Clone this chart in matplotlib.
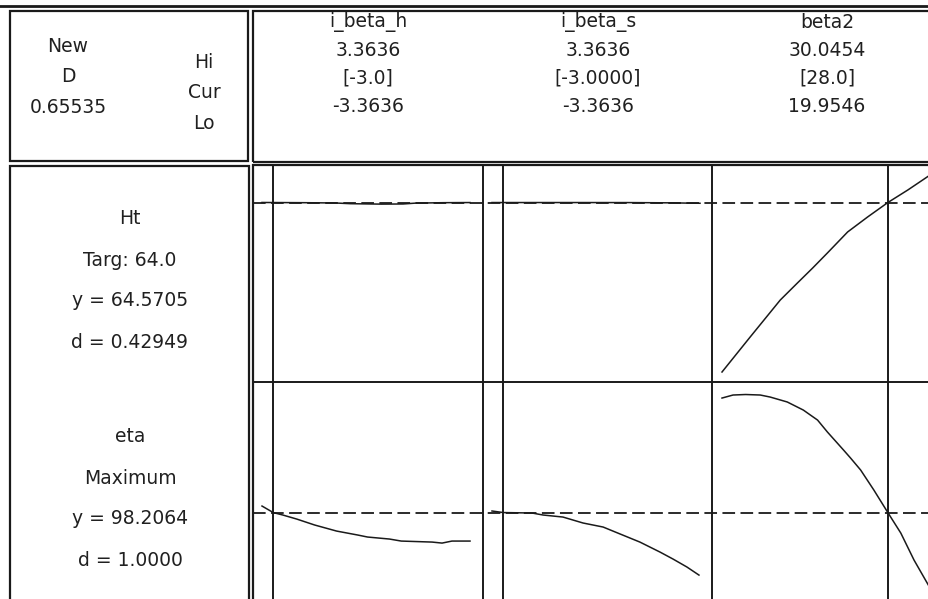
import numpy as np
import matplotlib
matplotlib.use('Agg')
import matplotlib.pyplot as plt
from matplotlib.lines import Line2D
from matplotlib.patches import Rectangle

W, H = 929, 599

# ---------------- data ----------------
factors = ['i_beta_h', 'i_beta_s', 'beta2']
f_lo = [-3.3636, -3.3636, 19.9546]
f_hi = [3.3636, 3.3636, 30.0454]
f_cur = [-3.0, -3.0, 28.0]
hi_txt = ['3.3636', '3.3636', '30.0454']
cur_txt = ['[-3.0]', '[-3.0000]', '[28.0]']
lo_txt = ['-3.3636', '-3.3636', '19.9546']

responses = ['Ht', 'eta']
goals = ['Targ: 64.0', 'Maximum']
y_pred = [64.5705, 98.2064]
d_txt = ['0.42949', '1.0000']
comp_d = '0.65535'

# Ht vs each factor
ht_x_h = [-3.3636, -3.0, -2.0, -1.0, -0.5, 0.5, 1.2, 1.6, 2.5, 3.3636]
ht_y_h = [64.575, 64.5705, 64.56, 64.54, 64.49, 64.46, 64.47, 64.53, 64.56, 64.57]
ht_x_s = [-3.3636, -3.0, -1.0, 1.0, 2.4, 3.0, 3.3636]
ht_y_s = [64.5705, 64.5705, 64.5705, 64.568, 64.55, 64.53, 64.52]
ht_x_b = [19.955, 21.32, 22.78, 23.61, 24.35, 25.07, 26.05, 27.02, 28.0, 28.97, 30.05]
ht_y_b = [52.70, 55.15, 57.74, 58.93, 59.98, 61.04, 62.51, 63.56, 64.5705, 65.45, 66.50]

# eta vs each factor
eta_x_h = [-3.3636, -3.0, -2.69, -2.24, -1.66, -0.95, -0.27, 0.05, 0.76, 1.14, 2.14, 2.46, 2.78, 3.3636]
eta_y_h = [98.271, 98.2064, 98.182, 98.142, 98.083, 98.023, 97.984, 97.964, 97.944, 97.924,
           97.914, 97.904, 97.924, 97.924]
eta_x_s = [-3.3636, -3.0, -2.07, -1.71, -1.07, -0.42, 0.23, 0.78, 1.42, 2.07, 2.49, 2.94, 3.33]
eta_y_s = [98.222, 98.2064, 98.202, 98.182, 98.162, 98.103, 98.063, 97.994, 97.914, 97.815,
           97.746, 97.667, 97.587]
eta_x_b = [19.955, 20.49, 21.10, 21.81, 22.29, 23.12, 23.51, 23.90, 24.24, 24.59, 25.07, 25.85,
           26.19, 26.68, 27.32, 28.0, 28.63, 29.27, 30.05]
eta_y_b = [99.341, 99.371, 99.376, 99.371, 99.351, 99.302, 99.262, 99.222, 99.173, 99.123,
           99.004, 98.826, 98.747, 98.628, 98.430, 98.2064, 98.003, 97.736, 97.458]

curves = [[(ht_x_h, ht_y_h), (ht_x_s, ht_y_s), (ht_x_b, ht_y_b)],
          [(eta_x_h, eta_y_h), (eta_x_s, eta_y_s), (eta_x_b, eta_y_b)]]
row_ylim = [(52.0, 67.2), (97.35, 99.5)]

# ---------------- layout (pixels) ----------------
row_top = [165, 382]
row_bot = [382, 599]
col_left = [253, 483, 712]
plot_w = 208

plt.rcParams['font.family'] = ['DejaVu Sans']
fig = plt.figure(figsize=(W / 100, H / 100), dpi=100)
fig.patch.set_facecolor('white')

LC = '#1a1a1a'
TC = '#202020'
FS = 13.5


def add_ax(x0, y0, x1, y1):
    return fig.add_axes([x0 / W, 1 - y1 / H, (x1 - x0) / W, (y1 - y0) / H])


def hline(y, x0, x1, lw=1.4, color=LC):
    fig.add_artist(Line2D([x0 / W, x1 / W], [1 - y / H, 1 - y / H], lw=lw, color=color,
                          transform=fig.transFigure))


def vline(x, y0, y1, lw=1.4, color=LC):
    fig.add_artist(Line2D([x / W, x / W], [1 - y0 / H, 1 - y1 / H], lw=lw, color=color,
                          transform=fig.transFigure))


def rect(x0, y0, x1, y1, lw=1.6):
    fig.add_artist(Rectangle((x0 / W, 1 - y1 / H), (x1 - x0) / W, (y1 - y0) / H,
                             fill=False, lw=lw, edgecolor=LC, transform=fig.transFigure))


def txt(x, y, s, ha='center'):
    fig.text(x / W, 1 - y / H, s, ha=ha, va='center', fontsize=FS, color=TC)


# frames
hline(5.5, 0, 929, lw=2)
rect(10, 11, 248, 161)
rect(253, 11, 940, 162)
rect(10, 166, 249, 610)
rect(253, 165, 940, 610)
hline(382, 253, 929)
for c in col_left[1:]:
    vline(c, 165, 599)

# header text
txt(68, 47, 'New')
txt(68, 77, 'D')
txt(68, 108, comp_d)
txt(204, 62, 'Hi')
txt(204, 93, 'Cur')
txt(204, 123, 'Lo')
for i in range(3):
    cx = col_left[i] + 115
    txt(cx, 22, factors[i])
    txt(cx, 50, hi_txt[i])
    txt(cx, 78, cur_txt[i])
    txt(cx, 107, lo_txt[i])

# response text
for r in range(2):
    base = [218, 436][r]
    txt(130, base, responses[r])
    txt(130, base + 42, goals[r])
    txt(130, base + 82, 'y = %.4f' % y_pred[r])
    txt(130, base + 124, 'd = ' + d_txt[r])

# plots
for r in range(2):
    row_ax = add_ax(253, row_top[r], 929, row_bot[r])
    row_ax.set_xlim(0, 1)
    row_ax.set_ylim(*row_ylim[r])
    row_ax.axhline(y_pred[r], color=LC, lw=1.3, ls=(0, (7, 3)))
    row_ax.axis('off')
    for c in range(3):
        ps = col_left[c] + 9 if c < 2 else col_left[c] + 10
        ax = add_ax(ps, row_top[r], ps + plot_w, row_bot[r])
        ax.set_xlim(f_lo[c], f_hi[c])
        ax.set_ylim(*row_ylim[r])
        xs, ys = curves[r][c]
        ax.plot(xs, ys, color=LC, lw=1.1, clip_on=False)
        ax.axvline(f_cur[c], color=LC, lw=1.4)
        ax.axis('off')

fig.savefig('out.png', dpi=100)
